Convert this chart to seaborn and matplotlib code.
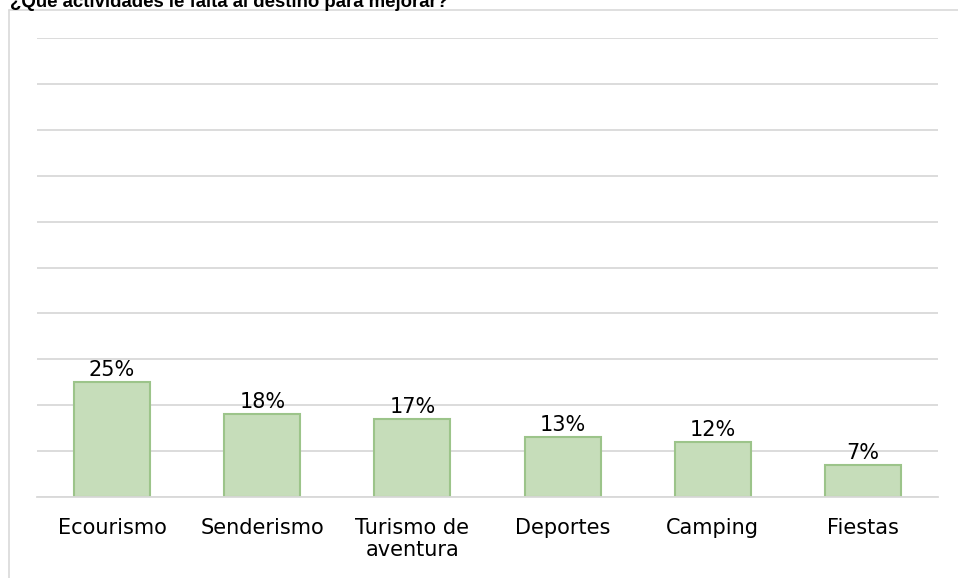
import matplotlib
matplotlib.use("Agg")
import matplotlib.pyplot as plt
import seaborn as sns
import pandas as pd

categorias = ["Ecourismo", "Senderismo", "Turismo de\naventura", "Deportes", "Camping", "Fiestas"]
porcentajes = [25, 18, 17, 13, 12, 7]
titulo = "¿Qué actividades le falta al destino para mejorar?"

sns.set_theme(style="white")
plt.rcParams["font.family"] = ["DejaVu Sans"]

df = pd.DataFrame({"actividad": categorias, "valor": [p / 100 for p in porcentajes]})

W, H = 958, 578
fig = plt.figure(figsize=(W / 100, H / 100), dpi=100)

# outer chart frame (top and left edges visible)
fig.add_artist(plt.Line2D([9 / W, 1], [1 - 10 / H, 1 - 10 / H], color="#d9d9d9", lw=1.2))
fig.add_artist(plt.Line2D([9 / W, 9 / W], [0, 1 - 10 / H], color="#d9d9d9", lw=1.2))

fig.text(10 / W, 1 - 7 / H, titulo, fontsize=13.4, fontweight="bold", color="#000000",
         ha="left", va="baseline", family=["Liberation Sans", "DejaVu Sans"])

ax = fig.add_axes([37 / W, (H - 497) / H, (938 - 37) / W, (497 - 38) / H])
sns.barplot(data=df, x="actividad", y="valor", ax=ax, color="#c6ddba",
            edgecolor="#9cc48a", linewidth=1.5, width=0.507, saturation=1)

ax.set_ylim(0, 1.0)
ax.set_xlim(-0.5, len(categorias) - 0.5)
ax.set_yticks([i / 10 for i in range(11)])
ax.yaxis.grid(True, color="#d9d9d9", linewidth=1.3)
ax.set_axisbelow(True)
ax.tick_params(axis="y", left=False, labelleft=False)
ax.tick_params(axis="x", bottom=False, labelsize=15, colors="#000000", pad=9)
for s in ["top", "right", "left"]:
    ax.spines[s].set_visible(False)
ax.spines["bottom"].set_color("#d9d9d9")
ax.spines["bottom"].set_linewidth(1.3)
ax.set_xlabel("")
ax.set_ylabel("")
for lbl in ax.get_xticklabels():
    lbl.set_linespacing(1.15)

for i, p in enumerate(porcentajes):
    ax.annotate(f"{p}%", (i, p / 100), xytext=(0, 1.5), textcoords="offset points",
                ha="center", va="bottom", fontsize=15, color="#000000")

fig.savefig("out.png", dpi=100)
